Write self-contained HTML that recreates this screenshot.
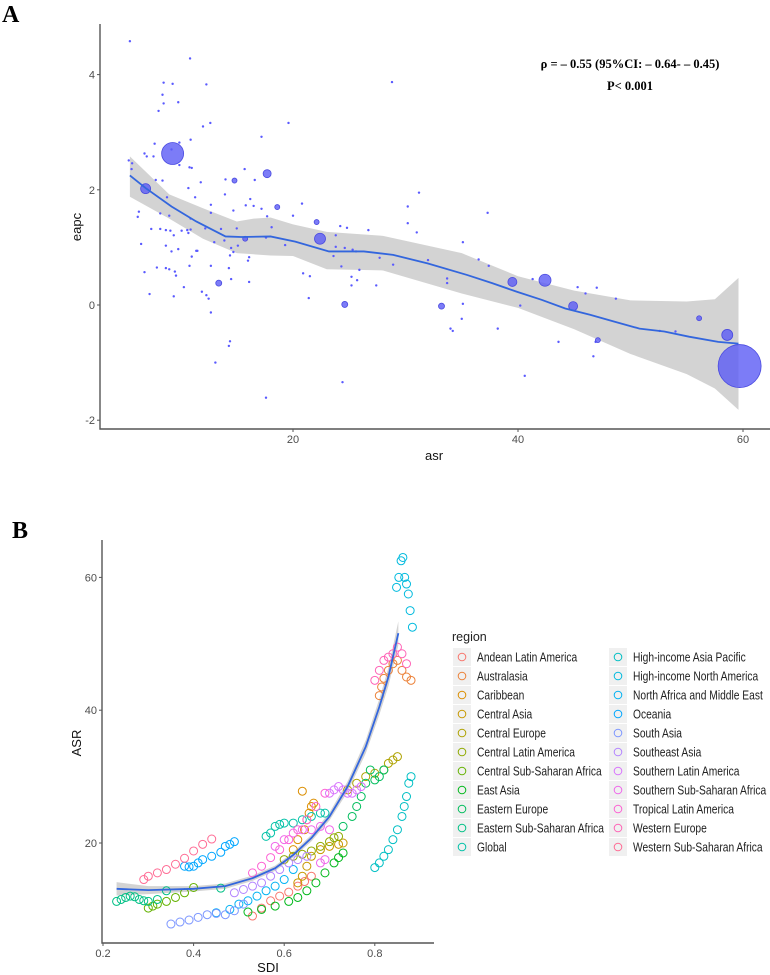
<!DOCTYPE html>
<html><head><meta charset="utf-8"><style>
html,body{margin:0;padding:0;background:#fff;}
svg{display:block;}
text{font-family:"Liberation Sans Narrow","Liberation Sans",sans-serif;}
.tick{fill:#4d4d4d;font-size:11px;}
.ttl{fill:#111;font-size:13px;}
.lbl{fill:#222;font-size:12.5px;}
</style></head><body>
<svg id="fig" width="770" height="975" viewBox="0 0 770 975" xmlns="http://www.w3.org/2000/svg">
<rect width="770" height="975" fill="#fff"/>
<text x="2" y="22" style="font-family:'Liberation Serif',serif;font-weight:bold;font-size:24px;fill:#000">A</text>
<text x="12" y="538" style="font-family:'Liberation Serif',serif;font-weight:bold;font-size:24px;fill:#000">B</text>
<g id="pa"></g>
<g id="pb"></g>
</svg>
<script>
// ---------- Panel A data ----------
const aAsr = [5.5,10.85,8.5,9.3,12.3,28.8,8.4,8.5,9.8,8.05,12.65,12.0,19.6,10.9,17.2,7.7,9.9,9.2,6.8,7.0,7.6,5.4,5.7,9.9,10.8,11.0,5.65,11.8,8.4,7.8,14.0,15.7,16.6,10.7,11.3,8.8,12.7,13.95,16.2,20.8,15.8,14.7,16.5,6.3,6.2,8.2,9.0,10.9,12.7,20.0,17.2,17.7,30.2,31.2,37.3,30.2,7.4,8.2,8.7,9.1,10.1,10.6,10.9,9.4,10.7,12.2,13.6,15.0,18.1,24.2,24.8,26.7,31.0,6.5,8.7,9.8,9.2,11.4,11.5,13.0,13.9,14.5,15.1,19.3,17.6,23.8,23.8,24.6,25.3,25.6,35.1,14.7,14.4,11.0,16.1,23.6,27.7,32.0,36.5,7.9,10.8,12.7,8.7,9.0,14.3,16.0,24.3,25.9,28.9,37.4,6.8,9.5,9.6,20.9,21.5,25.2,14.5,16.1,33.7,33.7,41.3,25.7,10.3,25.2,27.4,45.3,47.0,46.0,7.25,9.4,11.9,12.3,12.5,48.7,21.4,35.1,40.2,12.7,35.0,38.2,34.0,34.2,52.6,54.0,43.6,14.4,14.3,46.9,13.1,46.7,40.6,24.4,17.6];
const aEapc = [4.58,4.28,3.86,3.84,3.83,3.87,3.65,3.5,3.52,3.37,3.16,3.1,3.16,2.87,2.92,2.8,2.82,2.7,2.63,2.58,2.58,2.51,2.46,2.43,2.39,2.38,2.36,2.13,2.16,2.17,2.18,2.36,2.17,2.03,1.87,1.87,1.74,1.92,1.84,1.76,1.73,1.64,1.72,1.62,1.53,1.59,1.55,1.5,1.6,1.55,1.67,1.54,1.71,1.95,1.6,1.42,1.32,1.32,1.3,1.29,1.29,1.3,1.31,1.21,1.25,1.33,1.32,1.33,1.35,1.37,1.34,1.3,1.26,1.06,1.03,0.97,0.93,0.94,0.94,1.09,1.12,0.99,1.03,1.04,1.17,1.21,1.01,0.99,0.96,0.93,1.09,0.92,0.86,0.84,0.83,0.85,0.82,0.78,0.79,0.65,0.68,0.68,0.64,0.62,0.64,0.77,0.67,0.61,0.7,0.68,0.57,0.58,0.51,0.55,0.5,0.49,0.45,0.4,0.46,0.38,0.45,0.43,0.31,0.34,0.34,0.31,0.3,0.2,0.19,0.15,0.23,0.17,0.11,0.11,0.12,0.02,-0.01,-0.13,-0.24,-0.41,-0.41,-0.45,-0.45,-0.46,-0.64,-0.63,-0.71,-0.64,-1.0,-0.89,-1.23,-1.34,-1.61];
const bigAsr = [9.3,6.9,17.7,22.4,15.75,22.1,18.6,13.4,24.6,33.2,39.5,42.4,44.9,47.1,56.1,58.6,59.7,14.8];
const bigEapc = [2.63,2.02,2.28,1.15,1.15,1.44,1.7,0.38,0.01,-0.02,0.4,0.43,-0.02,-0.61,-0.23,-0.52,-1.06,2.16];
const bigSize = [11,5,4,5.5,2.5,2.5,2.5,3,3,3,4.5,6,4.5,2.5,2.5,5.5,21.5,2.5];
const fitAsr = [5.5,6.9,9.2,11.4,14.0,15.4,18.0,20.2,23.2,26.3,28.9,32.0,35.5,37.7,39.9,42.1,44.2,46.4,48.6,50.8,53.0,55.2,57.8,59.6];
const fitEapc = [2.25,2.03,1.71,1.45,1.19,1.18,1.19,1.1,0.93,0.93,0.87,0.72,0.52,0.38,0.23,0.09,-0.06,-0.17,-0.29,-0.41,-0.46,-0.55,-0.64,-0.67];
const ciAsr = [5.5,9,12,15,16.5,18,20,23,28,35,40,45,50,55,57.5,59.6];
const ciUp = [2.58,1.92,1.68,1.45,1.5,1.52,1.4,1.27,1.2,0.9,0.5,0.25,0.08,0.06,0.1,0.47];
const ciLo = [1.88,1.5,1.15,0.9,0.88,0.86,0.85,0.62,0.6,0.2,-0.05,-0.42,-0.85,-1.2,-1.45,-1.82];
const aXTicks = [20,40,60];
const aYTicks = [-2,0,2,4];

const NS='http://www.w3.org/2000/svg';
function mk(tag, attrs, parent){const e=document.createElementNS(NS,tag);for(const k in attrs)e.setAttribute(k,attrs[k]);parent.appendChild(e);return e;}

(function(){
 const g=document.getElementById('pa');
 const X=v=>293+(v-20)*11.25, Y=v=>305-v*57.6;
 let d='M'+ciAsr.map((a,i)=>X(a)+','+Y(ciUp[i])).join('L');
 for(let i=ciAsr.length-1;i>=0;i--) d+='L'+X(ciAsr[i])+','+Y(ciLo[i]);
 const band=mk('path',{d:d+'Z',fill:'#d3d3d3'},g);
 
 
 aAsr.forEach((a,i)=>{const c=mk('circle',{cx:X(a),cy:Y(aEapc[i]),r:1.2,fill:'#5a5aff'},g);
  
  });
 bigAsr.forEach((a,i)=>{const c=mk('circle',{cx:X(a),cy:Y(bigEapc[i]),r:bigSize[i],fill:'#5b5bf5',stroke:'#4a4ae0','stroke-width':0.8,'fill-opacity':0.8},g);
  
  });
 const ln=mk('path',{d:'M'+fitAsr.map((a,i)=>X(a)+','+Y(fitEapc[i])).join('L'),fill:'none',stroke:'#3366dd','stroke-width':1.8},g);
 
 
 const ax=mk('path',{d:'M100,24V429H770',fill:'none',stroke:'#555','stroke-width':1.4},g);
 
 
 aXTicks.forEach(t=>{mk('line',{x1:X(t),x2:X(t),y1:429,y2:432,stroke:'#555'},g);
  const tx=mk('text',{x:X(t),y:443,'text-anchor':'middle',class:'tick'},g);tx.textContent=t;
  
  });
 aYTicks.forEach(t=>{mk('line',{x1:97,x2:100,y1:Y(t),y2:Y(t),stroke:'#555'},g);
  const tx=mk('text',{x:95,y:Y(t)+4,'text-anchor':'end',class:'tick'},g);tx.textContent=t;
  
  });
})();
</script>
<script>
// ---------- Panel B data ----------
const regions = ["Andean Latin America","Australasia","Caribbean","Central Asia","Central Europe","Central Latin America","Central Sub-Saharan Africa","East Asia","Eastern Europe","Eastern Sub-Saharan Africa","Global","High-income Asia Pacific","High-income North America","North Africa and Middle East","Oceania","South Asia","Southeast Asia","Southern Latin America","Southern Sub-Saharan Africa","Tropical Latin America","Western Europe","Western Sub-Saharan Africa"];
const sdiVals = [
 [0.53,0.55,0.57,0.59,0.61,0.63,0.645,0.66],
 [0.81,0.815,0.82,0.83,0.84,0.85,0.86,0.87,0.88],
 [0.62,0.63,0.64,0.645,0.65,0.655,0.66,0.665],
 [0.63,0.64,0.65,0.66,0.68,0.70,0.72,0.73],
 [0.74,0.76,0.78,0.80,0.82,0.83,0.84,0.85],
 [0.60,0.62,0.64,0.66,0.68,0.70,0.71,0.72],
 [0.30,0.31,0.32,0.34,0.36,0.38,0.40],
 [0.52,0.55,0.58,0.61,0.63,0.65,0.67,0.69,0.71,0.72,0.73],
 [0.73,0.75,0.76,0.77,0.78,0.79,0.80,0.81,0.82],
 [0.23,0.24,0.25,0.26,0.27,0.28,0.29,0.30,0.32,0.34,0.46],
 [0.56,0.57,0.58,0.59,0.60,0.62,0.64,0.66,0.68,0.69],
 [0.80,0.81,0.82,0.83,0.84,0.85,0.86,0.865,0.87,0.875,0.88],
 [0.848,0.853,0.858,0.862,0.866,0.87,0.874,0.878,0.883],
 [0.45,0.48,0.50,0.52,0.54,0.56,0.58,0.60,0.62],
 [0.38,0.39,0.40,0.41,0.42,0.44,0.46,0.47,0.48,0.49],
 [0.35,0.37,0.39,0.41,0.43,0.45,0.47,0.49,0.51],
 [0.49,0.51,0.53,0.55,0.57,0.59,0.61,0.63,0.65],
 [0.70,0.71,0.72,0.73,0.74,0.75,0.76,0.77],
 [0.58,0.60,0.62,0.64,0.66,0.68,0.70,0.69,0.68],
 [0.53,0.55,0.57,0.59,0.61,0.63,0.65,0.67,0.69],
 [0.80,0.81,0.82,0.83,0.84,0.85,0.86,0.87],
 [0.29,0.30,0.32,0.34,0.36,0.38,0.40,0.42,0.44]
];
const asrVals = [
 [9.0,10.2,11.3,12.0,12.6,13.5,14.2,15.0],
 [42.2,43.5,44.8,46,47,47.5,46,45,44.5],
 [19,20.5,27.8,22,23.5,24.5,25.5,26],
 [14,15,16.5,18,19,19.5,19.8,20],
 [28,29,30,30.5,31,32,32.5,33],
 [17.5,18,18.3,18.8,19.5,20.2,20.8,21],
 [10.2,10.5,10.8,11.2,11.8,12.5,13.3],
 [9.6,10,10.5,11.2,11.8,12.8,14,15.5,17,17.8,18.5],
 [22.5,24,25.5,27,29,31,29.5,30,31],
 [11.2,11.5,11.8,12,11.9,11.5,11.3,11.2,11.5,12.8,13.2],
 [21,21.5,22.5,22.8,23,23,23.5,24,24.5,24.5],
 [16.3,17,18,19,20.5,22,24,25.5,27,29,30],
 [58.5,60,62.5,63,60,59,57.5,55,52.5],
 [9.5,10,10.8,11.3,12,12.8,13.5,14.5,16],
 [16.5,16.4,16.5,17,17.5,18,18.6,19.5,19.8,20.2],
 [7.8,8.1,8.4,8.8,9.2,9.4,9.2,9.8,10.8],
 [12.5,13,13.5,14,15,16,17,17.5,18],
 [27.5,28,28.5,28,27.5,27.5,28,28.5],
 [19.5,20.5,21.5,22,22,22.5,22,17.5,17],
 [15.5,16.5,17.8,19,20.5,22,23.5,25.5,27.5],
 [44.5,46,47.5,48,48.5,49.5,48.5,47],
 [14.5,15,15.5,16,16.8,17.7,18.8,19.8,20.6]
];
const fitSdi = [0.23,0.30,0.40,0.47,0.53,0.58,0.62,0.66,0.70,0.74,0.78,0.81,0.83,0.852];
const fitAsrB = [13.1,12.9,13.1,13.5,14.7,16.2,18.2,20.75,24,28.5,34.5,40.5,45,51.6];
const fitHalf = [1.0,0.6,0.4,0.4,0.4,0.4,0.4,0.5,0.6,0.8,1.0,1.2,1.4,1.8];
const bXTicks = [0.2,0.4,0.6,0.8];
const bYTicks = [20,40,60];

function hcl(h,c,l){
 const Y=Math.pow((l+16)/116,3);const un=0.19784,vn=0.46834;
 const hr=h*Math.PI/180;const u=c*Math.cos(hr),v=c*Math.sin(hr);
 const up=u/(13*l)+un,vp=v/(13*l)+vn;
 const X=Y*9*up/(4*vp),Z=Y*(12-3*up-20*vp)/(4*vp);
 const lin=[3.2406*X-1.5372*Y-0.4986*Z,-0.9689*X+1.8758*Y+0.0415*Z,0.0557*X-0.2040*Y+1.0570*Z];
 return 'rgb('+lin.map(x=>{x=x<=0.0031308?12.92*x:1.055*Math.pow(x,1/2.4)-0.055;return Math.round(Math.max(0,Math.min(1,x))*255);}).join(',')+')';
}
(function(){
 const g=document.getElementById('pb');
 const X=v=>103+(v-0.2)*453, Y=v=>843-(v-20)*6.64;
 const cols=regions.map((r,i)=>hcl(15+i*360/22,100,65));
 let d='M'+fitSdi.map((s,i)=>X(s)+','+Y(fitAsrB[i]+fitHalf[i])).join('L');
 for(let i=fitSdi.length-1;i>=0;i--) d+='L'+X(fitSdi[i])+','+Y(fitAsrB[i]-fitHalf[i]);
 const band=mk('path',{d:d+'Z',fill:'#c8c8c8','fill-opacity':0.8},g);
 
 
 regions.forEach((r,i)=>{
  sdiVals[i].forEach((s,j)=>{
   const c=mk('circle',{cx:X(s),cy:Y(asrVals[i][j]),r:4,fill:'none',stroke:cols[i],'stroke-width':1},g);
   
   
  });
 });
 const ln=mk('path',{d:'M'+fitSdi.map((s,i)=>X(s)+','+Y(fitAsrB[i])).join('L'),fill:'none',stroke:'#3366dd','stroke-width':1.8},g);
 
 
 const ax=mk('path',{d:'M102,540V943H434',fill:'none',stroke:'#555','stroke-width':1.4},g);
 
 
 bXTicks.forEach(t=>{mk('line',{x1:X(t),x2:X(t),y1:943,y2:946,stroke:'#555'},g);
  const tx=mk('text',{x:X(t),y:957,'text-anchor':'middle',class:'tick'},g);tx.textContent=t.toFixed(1);
  
  });
 bYTicks.forEach(t=>{mk('line',{x1:99,x2:102,y1:Y(t),y2:Y(t),stroke:'#555'},g);
  const tx=mk('text',{x:97,y:Y(t)+4,'text-anchor':'end',class:'tick'},g);tx.textContent=t;
  
  });
 const lg=mk('g',{},g);
 
 
 const tt=mk('text',{x:452,y:641,class:'lbl','font-size':'13.5'},lg);tt.textContent='region';
 
 
 regions.forEach((r,i)=>{
  const col=Math.floor(i/11),row=i%11;
  const bx=col?609:453, y=657+row*19;
  const e=mk('g',{},lg);
  
  
  mk('rect',{x:bx,y:y-9,width:18,height:18,fill:'#f0f0f0'},e);
  mk('circle',{cx:bx+9,cy:y,r:3.8,fill:'none',stroke:cols[i],'stroke-width':1},e);
  const t=mk('text',{x:0,y:0,class:'lbl',transform:'translate('+(bx+24)+','+(y+4.5)+') scale(0.82,1)'},e);t.textContent=r;
 });
})();
</script>
<svg style="position:absolute;left:0;top:0" width="770" height="975">
<text x="630" y="68" text-anchor="middle" style="font-family:'Liberation Serif',serif;font-weight:bold;font-size:12.5px;fill:#000">ρ = – 0.55 (95%CI: – 0.64- – 0.45)</text>
<text x="630" y="90" text-anchor="middle" style="font-family:'Liberation Serif',serif;font-weight:bold;font-size:12.5px;fill:#000">P&lt; 0.001</text>
<text x="434" y="460" text-anchor="middle" class="ttl">asr</text>
<text x="0" y="0" transform="translate(81,227) rotate(-90)" text-anchor="middle" class="ttl">eapc</text>
<text x="268" y="972" text-anchor="middle" class="ttl">SDI</text>
<text x="0" y="0" transform="translate(81,743) rotate(-90)" text-anchor="middle" class="ttl">ASR</text>
</svg>
</body></html>
